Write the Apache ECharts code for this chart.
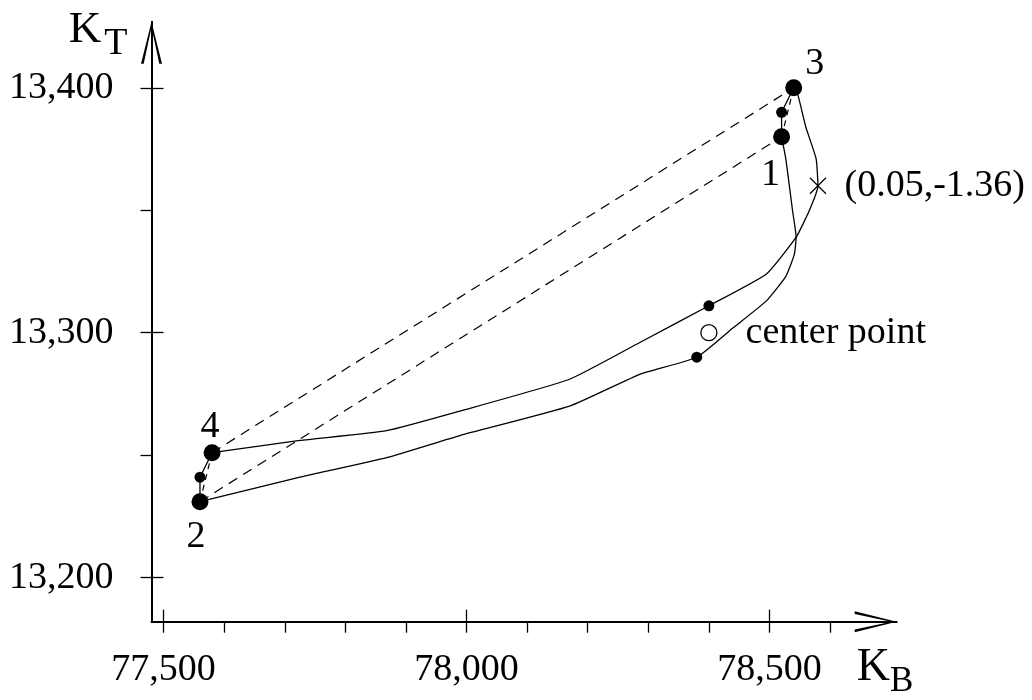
<!DOCTYPE html>
<html>
<head>
<meta charset="utf-8">
<script src="https://cdn.jsdelivr.net/npm/echarts@6/dist/echarts.min.js"></script>
<style>
html, body { margin: 0; padding: 0; background: #fff; }
#chart { width: 1032px; height: 700px; }
</style>
</head>
<body>
<div id="chart"></div>
<script>
// corner runs of the design
const cornerNames = ['1', '2', '3', '4']
const cornerKB = [78520, 77560, 78540, 77580]
const cornerKT = [13380, 13231, 13400, 13251]
// small points between the corners
const axialKB = [78520, 77560]
const axialKT = [13390, 13241]
// small points on the two paths
const pathDotKB = [78400, 78380]
const pathDotKT = [13311, 13290]
// center point
const centerNames = ['center point']
const centerKB = [78400]
const centerKT = [13300]
// optimum
const optimumNames = ['(0.05,-1.36)']
const optimumKB = [78580]
const optimumKT = [13360]
// path 4 -> optimum -> 3
const upperKB = [77580, 77725, 77868, 77989, 78170, 78286, 78400, 78495, 78544, 78566, 78580, 78577, 78560, 78547, 78540]
const upperKT = [13251, 13256, 13260, 13268, 13281, 13296, 13311, 13324, 13339, 13350, 13360, 13371, 13384, 13397, 13400]
// path 2 -> 1
const lowerKB = [77560, 77725, 77868, 77989, 78170, 78286, 78380, 78440, 78495, 78527, 78541, 78544, 78538, 78527, 78520]
const lowerKT = [13231, 13241, 13249, 13258, 13270, 13283, 13290, 13302, 13313, 13323, 13332, 13339, 13350, 13371, 13380]
// axes
const xTickValues = [77500, 77600, 77700, 77800, 77900, 78000, 78100, 78200, 78300, 78400, 78500, 78600]
const xLabelValues = [77500, 78000, 78500]
const yTickValues = [13200, 13250, 13300, 13350, 13400]
const yLabelValues = [13200, 13300, 13400]

const FONT = 'Liberation Serif'
const pts = (xs, ys) => xs.map((x, i) => [x, ys[i]])
const corner = i => [cornerKB[i], cornerKT[i]]
const axial = i => [axialKB[i], axialKT[i]]

const chevron = 'path://M5,0 L10,20 L8.7,20 L5,2.6 L1.3,20 L0,20 Z'
const cornerLabelOffset = [[-11, 38], [-4, 35], [21, -24], [-2, -26]]

const lineAxis = {
  show: true,
  onZero: false,
  symbol: ['none', chevron],
  symbolSize: [21, 42],
  symbolOffset: [0, -21],
  lineStyle: { color: '#000', width: 2 }
}

const chart = echarts.init(document.getElementById('chart'))
const option = {
  backgroundColor: '#fff',
  animation: false,
  grid: { left: 151.5, right: 135.3, top: 21.7, bottom: 78.3, containLabel: false, outerBoundsMode: 'none' },
  xAxis: [
    {
      type: 'value', min: 77480, max: 78710, position: 'bottom',
      axisLine: lineAxis,
      axisTick: { show: true, inside: false, length: 11, customValues: xTickValues, lineStyle: { color: '#000', width: 1.3 } },
      axisLabel: {
        show: true, customValues: xLabelValues, margin: 29,
        fontFamily: FONT, fontSize: 38, color: '#000',
        formatter: v => v.toLocaleString('en-US')
      },
      splitLine: { show: false },
      name: '{k|K}{s|B}',
      nameLocation: 'end',
      nameGap: -40,
      nameTextStyle: {
        align: 'left', verticalAlign: 'top', padding: [23, 0, 0, 0],
        fontFamily: FONT, color: '#000',
        rich: {
          k: { fontFamily: FONT, fontSize: 46, lineHeight: 46, verticalAlign: 'top', color: '#000' },
          s: { fontFamily: FONT, fontSize: 35, lineHeight: 35, padding: [28, 0, 0, 0], color: '#000' }
        }
      }
    },
    {
      // inner half of the major ticks
      type: 'value', min: 77480, max: 78710, position: 'bottom',
      axisLine: { show: false, onZero: false },
      axisTick: { show: true, inside: true, length: 12, customValues: xLabelValues, lineStyle: { color: '#000', width: 1.3 } },
      axisLabel: { show: false },
      splitLine: { show: false }
    }
  ],
  yAxis: [
    {
      type: 'value', min: 13182, max: 13427, position: 'left',
      axisLine: lineAxis,
      axisTick: { show: true, inside: false, length: 11, customValues: yTickValues, lineStyle: { color: '#000', width: 1.3 } },
      axisLabel: {
        show: true, customValues: yLabelValues, margin: 38,
        fontFamily: FONT, fontSize: 38, color: '#000',
        formatter: v => v.toLocaleString('en-US')
      },
      splitLine: { show: false },
      name: '{k|K}{s|T}',
      nameLocation: 'end',
      nameGap: -8,
      nameTextStyle: {
        align: 'right', verticalAlign: 'middle', padding: [0, 24, 0, 0],
        fontFamily: FONT, color: '#000',
        rich: {
          k: { fontFamily: FONT, fontSize: 45, lineHeight: 45, verticalAlign: 'top', color: '#000' },
          s: { fontFamily: FONT, fontSize: 38, lineHeight: 38, padding: [28, 0, 0, 3], color: '#000' }
        }
      }
    },
    {
      // inner half of the major ticks
      type: 'value', min: 13182, max: 13427, position: 'left',
      axisLine: { show: false, onZero: false },
      axisTick: { show: true, inside: true, length: 12, customValues: yLabelValues, lineStyle: { color: '#000', width: 1.3 } },
      axisLabel: { show: false },
      splitLine: { show: false }
    }
  ],
  series: [
    // dashed links between corners
    {
      type: 'line', symbol: 'none', silent: true, z: 2,
      lineStyle: { color: '#000', width: 1.2, type: [10, 7] },
      data: [corner(3), corner(2)]
    },
    {
      type: 'line', symbol: 'none', silent: true, z: 2,
      lineStyle: { color: '#000', width: 1.2, type: [10, 7] },
      data: [corner(1), corner(0)]
    },
    {
      type: 'line', symbol: 'none', silent: true, z: 2,
      lineStyle: { color: '#000', width: 1.2, type: [6, 5] },
      data: [corner(3), corner(1)]
    },
    {
      type: 'line', symbol: 'none', silent: true, z: 2,
      lineStyle: { color: '#000', width: 1.2, type: [6, 5] },
      data: [corner(0), corner(2)]
    },
    // short solid links through the axial points
    {
      type: 'line', symbol: 'none', silent: true, z: 2,
      lineStyle: { color: '#000', width: 1.3 },
      data: [corner(2), axial(0), corner(0)]
    },
    {
      type: 'line', symbol: 'none', silent: true, z: 2,
      lineStyle: { color: '#000', width: 1.3 },
      data: [corner(3), axial(1), corner(1)]
    },
    // the two paths
    {
      type: 'line', symbol: 'none', silent: true, smooth: 0.15, z: 2,
      lineStyle: { color: '#000', width: 1.3 },
      data: pts(upperKB, upperKT)
    },
    {
      type: 'line', symbol: 'none', silent: true, smooth: 0.15, z: 2,
      lineStyle: { color: '#000', width: 1.3 },
      data: pts(lowerKB, lowerKT)
    },
    // corner runs
    {
      type: 'scatter', symbol: 'circle', symbolSize: 17, z: 5,
      itemStyle: { color: '#000', opacity: 1 },
      data: cornerNames.map((n, i) => ({
        name: n,
        value: corner(i),
        label: { offset: cornerLabelOffset[i] }
      })),
      label: {
        show: true, position: 'inside', formatter: '{b}',
        fontFamily: FONT, fontSize: 38, color: '#000'
      }
    },
    // small points
    {
      type: 'scatter', symbol: 'circle', symbolSize: 11, z: 5,
      itemStyle: { color: '#000', opacity: 1 },
      data: pts(axialKB, axialKT).concat(pts(pathDotKB, pathDotKT))
    },
    // center point
    {
      type: 'scatter', symbol: 'circle', symbolSize: 16, z: 5,
      itemStyle: { color: '#fff', borderColor: '#000', borderWidth: 1.3, opacity: 1 },
      data: centerNames.map((n, i) => ({ name: n, value: [centerKB[i], centerKT[i]] })),
      label: {
        show: true, position: 'right', distance: 28, formatter: '{b}',
        fontFamily: FONT, fontSize: 38, color: '#000'
      }
    },
    // optimum
    {
      type: 'scatter', symbol: 'path://M0,0 L10,10 M10,0 L0,10', symbolSize: 16, z: 5,
      itemStyle: { color: 'transparent', borderColor: '#000', borderWidth: 1.2, opacity: 1 },
      data: optimumNames.map((n, i) => ({ name: n, value: [optimumKB[i], optimumKT[i]] })),
      label: {
        show: true, position: 'right', distance: 18, formatter: '{b}',
        fontFamily: FONT, fontSize: 38, color: '#000'
      }
    }
  ]
}
chart.setOption(option)
</script>
</body>
</html>
